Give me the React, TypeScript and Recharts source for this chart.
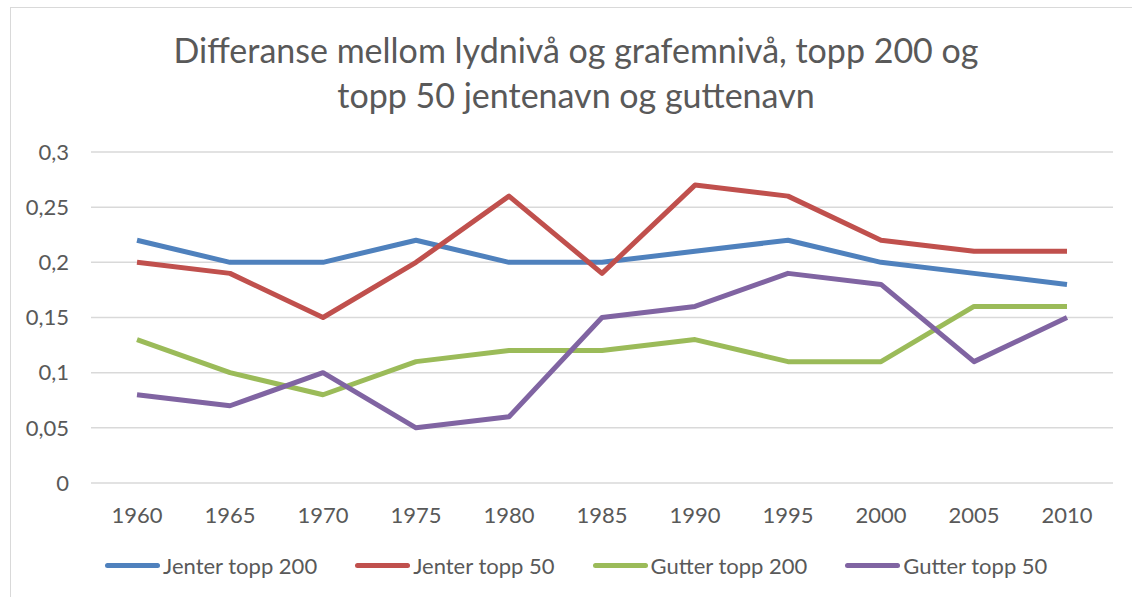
import { LineChart, Line, XAxis, YAxis, CartesianGrid } from 'recharts';

const years = ['1960', '1965', '1970', '1975', '1980', '1985', '1990', '1995', '2000', '2005', '2010'];

const jenterTopp200 = [0.22, 0.2, 0.2, 0.22, 0.2, 0.2, 0.21, 0.22, 0.2, 0.19, 0.18];
const jenterTopp50 = [0.2, 0.19, 0.15, 0.2, 0.26, 0.19, 0.27, 0.26, 0.22, 0.21, 0.21];
const gutterTopp200 = [0.13, 0.1, 0.08, 0.11, 0.12, 0.12, 0.13, 0.11, 0.11, 0.16, 0.16];
const gutterTopp50 = [0.08, 0.07, 0.1, 0.05, 0.06, 0.15, 0.16, 0.19, 0.18, 0.11, 0.15];

const yTicks = [0, 0.05, 0.1, 0.15, 0.2, 0.25, 0.3];

const titleLines = ['Differanse mellom lydnivå og grafemnivå, topp 200 og', 'topp 50 jentenavn og guttenavn'];

const SERIES = [
  { key: 'jt200', name: 'Jenter topp 200', color: '#4F81BD', values: jenterTopp200 },
  { key: 'jt50', name: 'Jenter topp 50', color: '#C0504D', values: jenterTopp50 },
  { key: 'gt200', name: 'Gutter topp 200', color: '#9BBB59', values: gutterTopp200 },
  { key: 'gt50', name: 'Gutter topp 50', color: '#8064A2', values: gutterTopp50 },
];

const FONT = 'Lato, "Noto Sans", sans-serif';
const TEXT = '#595959';

const data = years.map((year, i) => {
  const row: Record<string, string | number> = { year };
  SERIES.forEach(s => { row[s.key] = s.values[i]; });
  return row;
});

const fmt = (v: number) => String(v).replace('.', ',');

export default function App() {
  return (
    <div style={{ position: 'absolute', left: 0, top: 0, width: 1132, height: 597, overflow: 'hidden', background: '#fff', fontFamily: FONT }}>
      {/* chart border, runs off the right and bottom */}
      <div style={{ position: 'absolute', left: 10, top: 7, width: 1140, height: 610, border: '1px solid #D9D9D9' }} />

      {titleLines.map((t, i) => (
        <div key={i} style={{ position: 'absolute', left: 0, width: 1152, top: 30 + i * 45, textAlign: 'center', fontSize: 34, color: TEXT, lineHeight: '40px', whiteSpace: 'nowrap' }}>
          {t}
        </div>
      ))}

      <div style={{ position: 'absolute', left: 0, top: 0 }}>
        <LineChart width={1132} height={597} data={data} margin={{ top: 152, right: 19, left: 11, bottom: 74 }}>
          <CartesianGrid vertical={false} stroke="#D9D9D9" strokeWidth={1.5} />
          <XAxis
            dataKey="year"
            height={40}
            axisLine={false}
            tickLine={false}
            tickSize={0}
            tickMargin={24}
            padding={{ left: 46, right: 46 }}
            tick={{ fill: TEXT, fontSize: 22, fontFamily: FONT }}
          />
          <YAxis
            width={80}
            domain={[0, 0.3]}
            ticks={yTicks}
            tickFormatter={fmt}
            axisLine={false}
            tickLine={false}
            tickSize={0}
            tickMargin={22}
            tick={{ fill: TEXT, fontSize: 22, fontFamily: FONT }}
          />
          {SERIES.map(s => (
            <Line
              key={s.key}
              dataKey={s.key}
              name={s.name}
              stroke={s.color}
              strokeWidth={5}
              strokeLinejoin="round"
              dot={false}
              isAnimationActive={false}
            />
          ))}
        </LineChart>
      </div>

      {/* legend */}
      <div style={{ position: 'absolute', left: 105, top: 552, display: 'flex', alignItems: 'center', color: TEXT, fontSize: 22, whiteSpace: 'nowrap' }}>
        {SERIES.map(s => (
          <div key={s.key} style={{ display: 'flex', alignItems: 'center', marginRight: 38 }}>
            <div style={{ width: 55, height: 5, borderRadius: 3, background: s.color, marginRight: 3 }} />
            <span>{s.name}</span>
          </div>
        ))}
      </div>
    </div>
  );
}
